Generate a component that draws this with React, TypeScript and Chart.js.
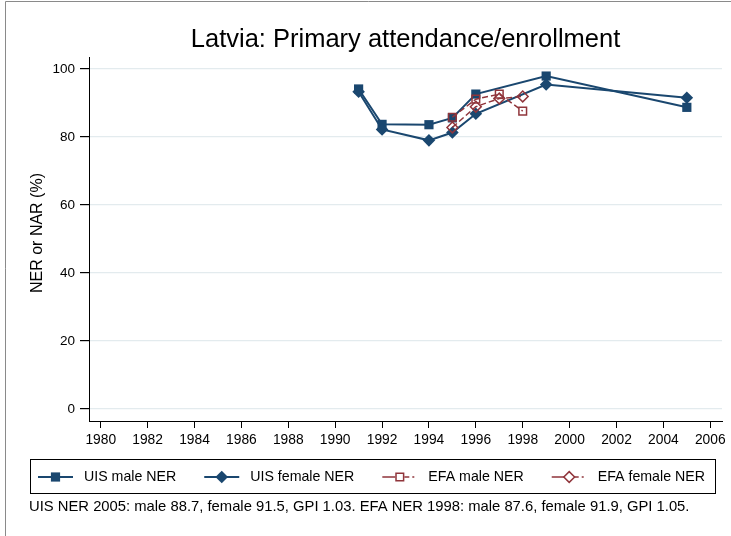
import React, { useEffect, useRef } from 'react';
import { Chart, registerables } from 'chart.js';

Chart.register(...registerables);

const FONT = '"Liberation Sans", Arial, Helvetica, sans-serif';

const TITLE = 'Latvia: Primary attendance/enrollment';
const Y_TITLE = 'NER or NAR (%)';
const NOTE =
  'UIS NER 2005: male 88.7, female 91.5, GPI 1.03. EFA NER 1998: male 87.6, female 91.9, GPI 1.05.';

const uisYears = [1991, 1992, 1994, 1995, 1996, 1999, 2005];
const uisMale = [94.1, 83.7, 83.6, 85.6, 92.6, 97.9, 88.7];
const uisFemale = [93.3, 82.2, 79.0, 81.3, 86.8, 95.4, 91.5];

const efaYears = [1995, 1996, 1997, 1998];
const efaMale = [85.8, 91.1, 92.6, 87.6];
const efaFemale = [82.8, 88.9, 91.3, 91.9];

const seriesLabels = ['UIS male NER', 'UIS female NER', 'EFA male NER', 'EFA female NER'];

const NAVY = '#1a476f';
const MAROON = '#90353b';

const toPoints = (xs: number[], ys: number[]) => xs.map((x, i) => ({ x, y: ys[i] }));

function drawMarker(ctx: CanvasRenderingContext2D, kind: string, x: number, y: number, color: string) {
  ctx.save();
  ctx.setLineDash([]);
  ctx.fillStyle = color;
  ctx.strokeStyle = color;
  ctx.lineWidth = 1.5;
  ctx.beginPath();
  if (kind === 'square') {
    ctx.rect(x - 4.6, y - 4.6, 9.2, 9.2);
    ctx.fill();
  } else if (kind === 'diamond') {
    ctx.moveTo(x, y - 6.3);
    ctx.lineTo(x + 6.3, y);
    ctx.lineTo(x, y + 6.3);
    ctx.lineTo(x - 6.3, y);
    ctx.closePath();
    ctx.fill();
  } else if (kind === 'osquare') {
    ctx.fillStyle = '#fff';
    ctx.rect(x - 3.8, y - 3.8, 7.6, 7.6);
    ctx.fill();
    ctx.stroke();
  } else {
    ctx.fillStyle = '#fff';
    ctx.moveTo(x, y - 5.4);
    ctx.lineTo(x + 5.4, y);
    ctx.lineTo(x, y + 5.4);
    ctx.lineTo(x - 5.4, y);
    ctx.closePath();
    ctx.fill();
    ctx.stroke();
  }
  ctx.restore();
}

const markerKinds = ['square', 'diamond', 'osquare', 'odiamond'];

const decorPlugin = {
  id: 'decor',
  afterDraw(chart: any) {
    const { ctx, chartArea } = chart;
    ctx.save();

    // outer frame
    ctx.strokeStyle = '#8a8a8a';
    ctx.lineWidth = 1;
    ctx.beginPath();
    ctx.moveTo(5.5, 536);
    ctx.lineTo(5.5, 1.5);
    ctx.lineTo(731, 1.5);
    ctx.stroke();

    // title
    ctx.fillStyle = '#000';
    ctx.font = `25.5px ${FONT}`;
    ctx.textAlign = 'center';
    ctx.textBaseline = 'alphabetic';
    ctx.fillText(TITLE, (chartArea.left + chartArea.right) / 2, 47);

    // y axis title
    ctx.save();
    ctx.translate(38, 233);
    ctx.rotate(-Math.PI / 2);
    ctx.font = `16px ${FONT}`;
    ctx.textAlign = 'center';
    ctx.textBaseline = 'middle';
    ctx.fillText(Y_TITLE, 0, 0);
    ctx.restore();

    // legend box
    ctx.strokeStyle = '#000';
    ctx.lineWidth = 1;
    ctx.strokeRect(30.5, 459.5, 685, 34);

    ctx.font = `14.2px ${FONT}`;
    ctx.textAlign = 'left';
    ctx.textBaseline = 'middle';
    const ly = 477;
    let lx = 38;
    const datasets = chart.data.datasets;
    datasets.forEach((ds: any, i: number) => {
      const color = ds.borderColor;
      ctx.save();
      ctx.strokeStyle = color;
      ctx.lineWidth = ds.borderWidth;
      ctx.setLineDash(ds.borderDash ? [13, 9, 5, 3, 2, 10] : []);
      ctx.beginPath();
      ctx.moveTo(lx, ly);
      ctx.lineTo(lx + 35, ly);
      ctx.stroke();
      ctx.restore();
      drawMarker(ctx, markerKinds[i], lx + 17.5, ly, color);
      ctx.fillStyle = '#000';
      ctx.fillText(ds.label, lx + 46, ly);
      lx += 46 + ctx.measureText(ds.label).width + 28;
    });

    // note
    ctx.font = `14.8px ${FONT}`;
    ctx.textAlign = 'left';
    ctx.textBaseline = 'middle';
    ctx.fillStyle = '#000';
    ctx.fillText(NOTE, 29, 507);

    ctx.restore();
  },
};

export default function App() {
  const canvasRef = useRef<HTMLCanvasElement | null>(null);

  useEffect(() => {
    const canvas = canvasRef.current;
    if (!canvas) return;
    const chart = new Chart(canvas, {
      type: 'line',
      data: {
        datasets: [
          {
            label: seriesLabels[0],
            data: toPoints(uisYears, uisMale),
            borderColor: NAVY,
            backgroundColor: NAVY,
            borderWidth: 2,
            pointStyle: 'rect',
            pointRadius: 6.5,
            pointBorderWidth: 0,
            pointBackgroundColor: NAVY,
            order: 4,
          },
          {
            label: seriesLabels[1],
            data: toPoints(uisYears, uisFemale),
            borderColor: NAVY,
            backgroundColor: NAVY,
            borderWidth: 2,
            pointStyle: 'rectRot',
            pointRadius: 6.3,
            pointBorderWidth: 0,
            pointBackgroundColor: NAVY,
            order: 3,
          },
          {
            label: seriesLabels[2],
            data: toPoints(efaYears, efaMale),
            borderColor: MAROON,
            backgroundColor: 'transparent',
            borderWidth: 1.5,
            borderDash: [6, 3],
            pointStyle: 'rect',
            pointRadius: 5.4,
            pointBorderWidth: 1.5,
            pointBorderColor: MAROON,
            pointBackgroundColor: 'transparent',
            order: 2,
          },
          {
            label: seriesLabels[3],
            data: toPoints(efaYears, efaFemale),
            borderColor: MAROON,
            backgroundColor: 'transparent',
            borderWidth: 1.5,
            borderDash: [6, 3],
            pointStyle: 'rectRot',
            pointRadius: 5.4,
            pointBorderWidth: 1.5,
            pointBorderColor: MAROON,
            pointBackgroundColor: 'transparent',
            order: 1,
          },
        ],
      },
      options: {
        responsive: false,
        animation: false,
        events: [],
        layout: { padding: { top: 57, left: 0, right: 9, bottom: 0 } },
        plugins: {
          legend: { display: false },
          title: { display: false },
          tooltip: { enabled: false },
        },
        scales: {
          x: {
            type: 'linear',
            min: 1979.5,
            max: 2006.5,
            afterFit: (scale: any) => {
              scale.height = 115;
            },
            ticks: {
              stepSize: 2,
              includeBounds: false,
              autoSkip: false,
              maxRotation: 0,
              color: '#000',
              padding: 4,
              font: { family: FONT, size: 13.8 },
              callback: (v: any) => String(v),
            },
            grid: {
              display: true,
              drawOnChartArea: false,
              drawTicks: true,
              tickLength: 7,
              tickColor: '#000',
            },
            border: { display: true, color: '#000', width: 1 },
          },
          y: {
            type: 'linear',
            min: -3.5,
            max: 103.5,
            afterFit: (scale: any) => {
              scale.width = 89;
            },
            ticks: {
              stepSize: 20,
              includeBounds: false,
              color: '#000',
              padding: 5,
              font: { family: FONT, size: 13.5 },
              callback: (v: any) => String(v),
            },
            grid: {
              display: true,
              drawOnChartArea: true,
              drawTicks: true,
              tickLength: 9,
              color: '#e3ebee',
              lineWidth: 1.2,
              tickColor: '#000',
            },
            border: { display: true, color: '#000', width: 1 },
          },
        },
      },
      plugins: [decorPlugin],
    });
    return () => chart.destroy();
  }, []);

  return (
    <div style={{ position: 'fixed', left: 0, top: 0, width: 731, height: 536, background: '#fff' }}>
      <canvas ref={canvasRef} width={731} height={536} style={{ display: 'block', width: 731, height: 536 }} />
    </div>
  );
}
